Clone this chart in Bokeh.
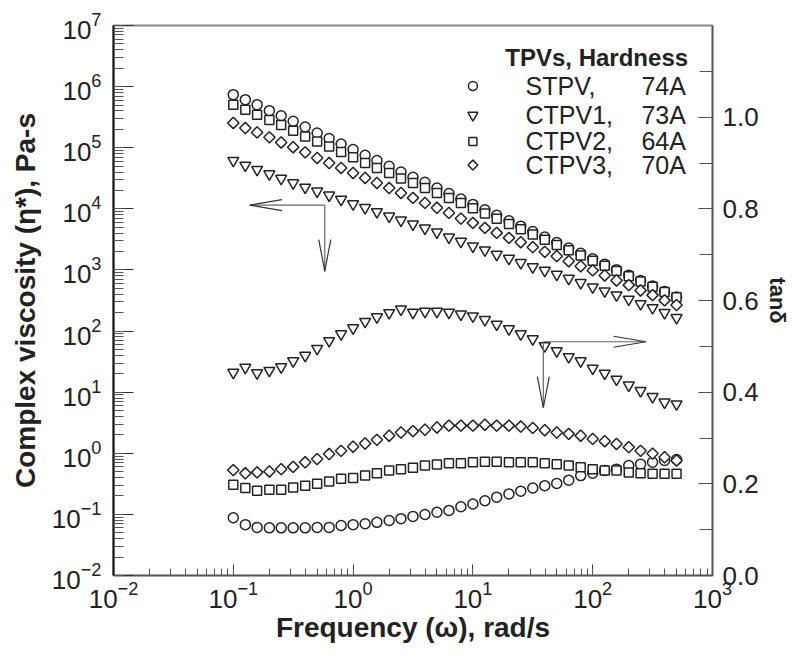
from bokeh.plotting import figure
from bokeh.models import (Range1d, LinearAxis, LinearScale, SingleIntervalTicker,
                          PrintfTickFormatter, Label)
from bokeh.embed import file_html
from bokeh.resources import INLINE

# ---------------- data ----------------
freq = [0.1, 0.126, 0.158, 0.2, 0.251, 0.316, 0.398, 0.501, 0.631, 0.794,
        1.0, 1.26, 1.58, 2.0, 2.51, 3.16, 3.98, 5.01, 6.31, 7.94,
        10.0, 12.6, 15.8, 20.0, 25.1, 31.6, 39.8, 50.1, 63.1, 79.4,
        100.0, 126.0, 158.0, 200.0, 251.0, 316.0, 398.0, 501.0]

eta_stpv = [7.38e5, 6.11e5, 5.06e5, 4.04e5, 3.34e5, 2.70e5, 2.18e5, 1.74e5, 1.41e5, 1.15e5,
            9.31e4, 7.52e4, 6.15e4, 4.97e4, 4.01e4, 3.28e4, 2.72e4, 2.19e4, 1.78e4, 1.45e4,
            1.18e4, 9.62e3, 7.83e3, 6.38e3, 5.20e3, 4.24e3, 3.45e3, 2.81e3, 2.29e3, 1.87e3,
            1.52e3, 1.24e3, 1.01e3, 822, 670, 546, 445, 362]
eta_ctpv1 = [6.15e4, 5.15e4, 4.39e4, 3.72e4, 3.13e4, 2.65e4, 2.25e4, 1.94e4, 1.67e4, 1.42e4,
             1.20e4, 1.04e4, 8.91e3, 7.57e3, 6.52e3, 5.61e3, 4.82e3, 4.15e3, 3.43e3, 2.92e3,
             2.45e3, 2.11e3, 1.79e3, 1.54e3, 1.31e3, 1.12e3, 982, 845, 726, 617,
             524, 451, 387, 330, 279, 240, 199, 165]
eta_ctpv2 = [5.06e5, 4.19e5, 3.47e5, 2.85e5, 2.36e5, 1.90e5, 1.53e5, 1.27e5, 1.05e5, 8.51e4,
             6.97e4, 5.62e4, 4.66e4, 3.86e4, 3.13e4, 2.65e4, 2.19e4, 1.82e4, 1.51e4, 1.24e4,
             1.02e4, 8.36e3, 6.85e3, 5.64e3, 4.62e3, 3.80e3, 3.13e3, 2.56e3, 2.11e3, 1.73e3,
             1.42e3, 1.17e3, 959, 789, 647, 532, 437, 359]
eta_ctpv3 = [2.54e5, 2.10e5, 1.78e5, 1.48e5, 1.22e5, 1.02e5, 8.41e4, 6.79e4, 5.62e4, 4.66e4,
             3.86e4, 3.20e4, 2.65e4, 2.19e4, 1.82e4, 1.51e4, 1.25e4, 1.04e4, 8.57e3, 6.93e3,
             5.89e3, 4.88e3, 4.04e3, 3.35e3, 2.84e3, 2.36e3, 1.98e3, 1.68e3, 1.39e3, 1.15e3,
             982, 813, 673, 565, 462, 387, 318, 266]

tan_stpv = [0.126, 0.111, 0.105, 0.104, 0.104, 0.104, 0.104, 0.105, 0.105, 0.109,
            0.111, 0.113, 0.116, 0.120, 0.124, 0.129, 0.133, 0.138, 0.142, 0.150,
            0.156, 0.163, 0.171, 0.178, 0.184, 0.191, 0.196, 0.201, 0.208, 0.218,
            0.223, 0.229, 0.232, 0.240, 0.243, 0.247, 0.251, 0.253]
tan_ctpv1 = [0.443, 0.454, 0.442, 0.447, 0.455, 0.468, 0.480, 0.495, 0.512, 0.527,
             0.540, 0.554, 0.564, 0.573, 0.581, 0.574, 0.576, 0.576, 0.574, 0.570,
             0.566, 0.558, 0.548, 0.538, 0.527, 0.516, 0.501, 0.490, 0.477, 0.468,
             0.452, 0.441, 0.428, 0.415, 0.403, 0.390, 0.378, 0.374]
tan_ctpv2 = [0.198, 0.191, 0.185, 0.187, 0.187, 0.192, 0.196, 0.200, 0.205, 0.211,
             0.213, 0.218, 0.223, 0.229, 0.232, 0.235, 0.240, 0.242, 0.245, 0.245,
             0.247, 0.248, 0.248, 0.247, 0.247, 0.247, 0.245, 0.243, 0.240, 0.236,
             0.232, 0.229, 0.229, 0.225, 0.223, 0.222, 0.222, 0.222]
tan_ctpv3 = [0.230, 0.223, 0.225, 0.227, 0.232, 0.237, 0.247, 0.254, 0.265, 0.272,
             0.281, 0.288, 0.296, 0.305, 0.312, 0.315, 0.318, 0.323, 0.327, 0.327,
             0.327, 0.329, 0.327, 0.327, 0.325, 0.322, 0.317, 0.312, 0.309, 0.305,
             0.298, 0.293, 0.287, 0.280, 0.272, 0.266, 0.258, 0.251]

series_names = ["STPV,", "CTPV1,", "CTPV2,", "CTPV3,"]
hardness = ["74A", "73A", "64A", "70A"]
markers = ["circle", "inverted_triangle", "square", "square"]
angles = [0.0, 0.0, 0.0, 0.785398]
sizes = [10, 11, 9, 8]

FONT = "Liberation Sans"
INK = "#222222"

p = figure(width=792, height=648, x_axis_type="log", y_axis_type="log",
           x_range=Range1d(1e-2, 1e3), y_range=Range1d(1e-2, 1e7),
           output_backend="svg", toolbar_location=None,
           min_border_left=113, min_border_right=77, min_border_top=25, min_border_bottom=73,
           background_fill_color="white", border_fill_color="white")
p.xgrid.visible = False
p.ygrid.visible = False
p.outline_line_color = "#8a8a8a"
p.outline_line_width = 2

p.extra_y_ranges = {"tan": Range1d(0, 1.2)}
p.extra_y_scales = {"tan": LinearScale()}
rax = LinearAxis(y_range_name="tan",
                 ticker=SingleIntervalTicker(interval=0.2, num_minor_ticks=2),
                 formatter=PrintfTickFormatter(format="%.1f"),
                 axis_label="tanδ")
p.add_layout(rax, "right")

p.xaxis.axis_label = "Frequency (ω), rad/s"
p.yaxis[0].axis_label = "Complex viscosity (η*), Pa-s"

for ax in [p.xaxis[0], p.yaxis[0], rax]:
    ax.major_tick_out = 0
    ax.minor_tick_out = 0
    ax.major_tick_line_color = "#333333"
    ax.minor_tick_line_color = "#555555"
    ax.axis_line_color = "#555555"
    ax.axis_line_width = 1.5
    ax.major_label_text_font = FONT
    ax.major_label_text_font_size = "26px"
    ax.major_label_text_color = INK
    ax.axis_label_text_font = FONT
    ax.axis_label_text_font_style = "bold"
    ax.axis_label_text_font_size = "28px"
    ax.axis_label_text_color = INK

p.yaxis[0].major_tick_in = 20
p.yaxis[0].minor_tick_in = 10
p.xaxis[0].major_tick_in = 11
p.xaxis[0].minor_tick_in = 7
rax.major_tick_in = 14
rax.minor_tick_in = 13
rax.axis_label_text_font_size = "22px"

p.yaxis[0].axis_line_color = "#111111"
p.yaxis[0].axis_line_width = 2
p.yaxis[0].major_label_standoff = 12
p.yaxis[0].axis_label_standoff = 8
p.xaxis[0].major_label_standoff = 5
p.xaxis[0].axis_label_standoff = 1
rax.major_label_standoff = 10
rax.axis_label_standoff = 3

etas = [eta_stpv, eta_ctpv1, eta_ctpv2, eta_ctpv3]
tans = [tan_stpv, tan_ctpv1, tan_ctpv2, tan_ctpv3]
for eta, tan, m, a, s in zip(etas, tans, markers, angles, sizes):
    p.scatter(freq, eta, marker=m, angle=a, size=s, fill_color="white",
              line_color=INK, line_width=1.5)
    p.scatter(freq, tan, marker=m, angle=a, size=s, fill_color="white",
              line_color=INK, line_width=1.5, y_range_name="tan")

# ---------------- arrows ----------------
ARROW = "#666666"
HEAD = "#333333"
c1x, c1y = 0.58, 1.15e4
t1x = 0.137
t1y = 950.0
p.line([c1x, t1x], [c1y, c1y], line_color=ARROW, line_width=1.2)
p.line([c1x, c1x], [c1y, t1y], line_color=ARROW, line_width=1.2)
hl = 10 ** 0.27
hw = 10 ** 0.09
p.line([t1x * hl, t1x, t1x * hl], [c1y * hw, c1y, c1y / hw], line_color=HEAD, line_width=1.2)
vl = 10 ** 0.52
vw = 10 ** 0.05
p.line([c1x * vw, c1x, c1x / vw], [t1y * vl, t1y, t1y * vl], line_color=HEAD, line_width=1.2)

c2x, c2y = 38.7, 0.51
t2x = 278.0
t2y = 0.366
p.line([c2x, t2x], [c2y, c2y], line_color=ARROW, line_width=1.2, y_range_name="tan")
p.line([c2x, c2x], [c2y, t2y], line_color=ARROW, line_width=1.2, y_range_name="tan")
p.line([t2x / hl, t2x, t2x / hl], [c2y + 0.012, c2y, c2y - 0.012], line_color=HEAD,
       line_width=1.2, y_range_name="tan")
p.line([c2x * vw, c2x, c2x / vw], [t2y + 0.068, t2y, t2y + 0.068], line_color=HEAD,
       line_width=1.2, y_range_name="tan")

# ---------------- legend ----------------
leg_x_marker = 10.0
leg_x_name = 27.5
leg_x_hard = 600.0
leg_title_x = 108.0
leg_title_y = 3.0e6
leg_rows = [1.02e6, 3.4e5, 1.27e5, 5.2e4]
p.add_layout(Label(x=leg_title_x, y=leg_title_y, text="TPVs, Hardness", text_align="center",
                   text_baseline="middle", text_font=FONT, text_font_style="bold",
                   text_font_size="24px", text_color=INK))
for name, hard, m, a, s, yr in zip(series_names, hardness, markers, angles, sizes, leg_rows):
    p.scatter([leg_x_marker], [yr], marker=m, angle=a, size=s - 1, fill_color="white",
              line_color=INK, line_width=1.5)
    p.add_layout(Label(x=leg_x_name, y=yr, text=name, text_align="left", text_baseline="middle",
                       text_font=FONT, text_font_size="25px", text_color=INK))
    p.add_layout(Label(x=leg_x_hard, y=yr, text=hard, text_align="right", text_baseline="middle",
                       text_font=FONT, text_font_size="25px", text_color=INK))

open("out.html", "w").write(file_html(p, INLINE))
